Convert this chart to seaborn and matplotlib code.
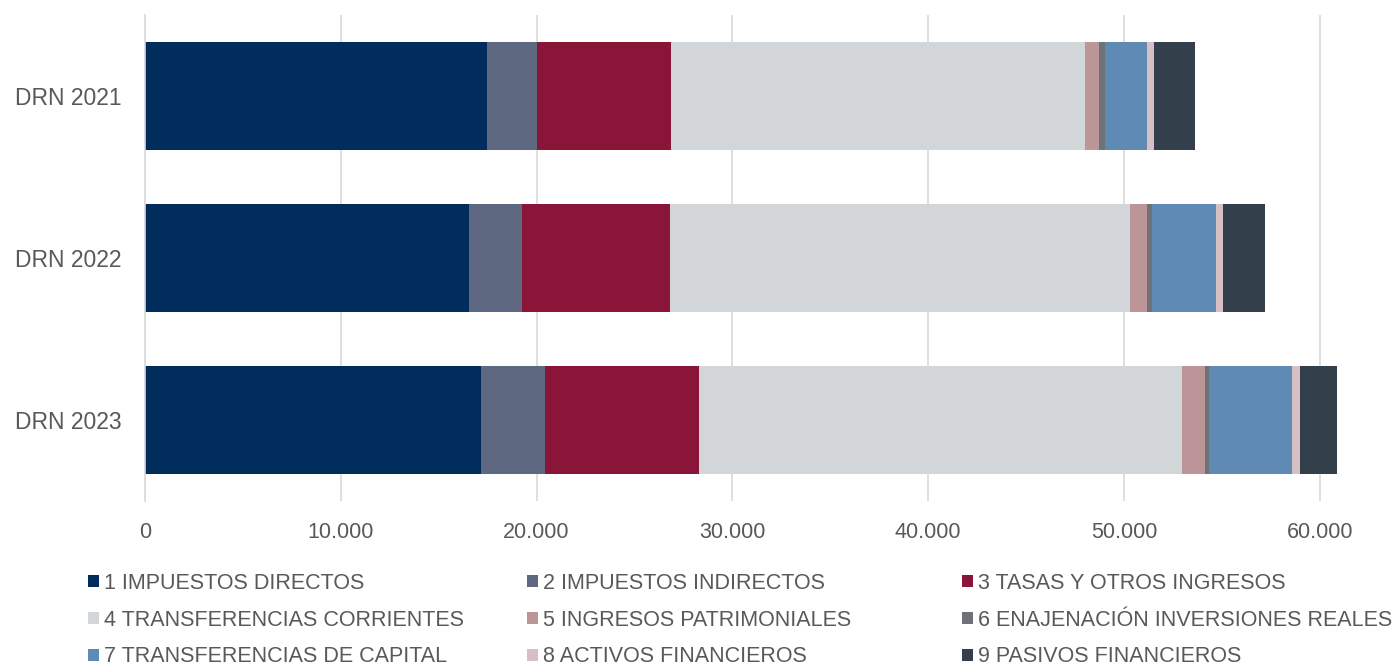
import pandas as pd
import matplotlib
matplotlib.use("Agg")
import matplotlib.pyplot as plt
from matplotlib.patches import Patch
from matplotlib.ticker import FuncFormatter, FixedLocator
import seaborn as sns

# Years (categories on y axis)
years = ["DRN 2021", "DRN 2022", "DRN 2023"]

# Chapter names, in stacking order
chapters = [
    "1 IMPUESTOS DIRECTOS",
    "2 IMPUESTOS INDIRECTOS",
    "3 TASAS Y OTROS INGRESOS",
    "4 TRANSFERENCIAS CORRIENTES",
    "5 INGRESOS PATRIMONIALES",
    "6 ENAJENACIÓN INVERSIONES REALES",
    "7 TRANSFERENCIAS DE CAPITAL",
    "8 ACTIVOS FINANCIEROS",
    "9 PASIVOS FINANCIEROS",
]

# Values per chapter (2021, 2022, 2023)
impuestos_directos = [17480, 16550, 17160]
impuestos_indirectos = [2540, 2705, 3255]
tasas_otros = [6860, 7560, 7880]
transf_corrientes = [21145, 23490, 24670]
ingresos_patrimoniales = [700, 855, 1175]
enajenacion = [290, 285, 220]
transf_capital = [2145, 3255, 4225]
activos_fin = [360, 370, 425]
pasivos_fin = [2125, 2115, 1890]

colors = ["#002D5C", "#5E6880", "#8A1538", "#D3D6D9", "#BC9599",
          "#6D7278", "#5E8AB4", "#D6C0C4", "#333F4A"]

series = [impuestos_directos, impuestos_indirectos, tasas_otros, transf_corrientes,
          ingresos_patrimoniales, enajenacion, transf_capital, activos_fin, pasivos_fin]

rows = []
for name, vals in zip(chapters, series):
    for y, v in zip(years, vals):
        rows.append({"year": y, "chapter": name, "value": v})
df = pd.DataFrame(rows)
df["chapter"] = pd.Categorical(df["chapter"], categories=chapters, ordered=True)
df = df.sort_values(["year", "chapter"])
df["cum"] = df.groupby("year")["value"].cumsum()

sns.set_style("white")
plt.rcParams["font.family"] = ["Liberation Sans", "DejaVu Sans"]

text_col = "#595959"
grid_col = "#D9D9D9"

fig = plt.figure(figsize=(13.93, 6.70), dpi=100)
ax = fig.add_axes([0.1041, 0.2522, 0.8855, 0.7254])

# stacked bars: draw cumulative totals from last chapter to first
for name, col in reversed(list(zip(chapters, colors))):
    sub = df[df["chapter"] == name]
    sns.barplot(data=sub, x="cum", y="year", order=years, orient="h",
                color=col, saturation=1, width=0.667, errorbar=None,
                linewidth=0, ax=ax, zorder=3)

ax.set_xlim(0, 63000)
ax.set_xticks(range(0, 60001, 10000))
ax.xaxis.set_major_formatter(FuncFormatter(lambda v, p: f"{int(v):,}".replace(",", ".")))
ax.set_xlabel("")
ax.set_ylabel("")

ax.grid(axis="x", color=grid_col, linewidth=1.2, zorder=0)
ax.grid(axis="y", visible=False)
ax.set_axisbelow(True)
for s in ["top", "right", "bottom"]:
    ax.spines[s].set_visible(False)
ax.spines["left"].set_color(grid_col)
ax.spines["left"].set_linewidth(1.2)
ax.spines["left"].set_zorder(4)

ax.tick_params(axis="x", length=0, pad=15, labelsize=15.5, labelcolor=text_col)
ax.tick_params(axis="y", which="major", length=0, pad=17, labelsize=16.5, labelcolor=text_col)
ax.yaxis.set_minor_locator(FixedLocator([-0.5, 0.5, 1.5, 2.5]))
ax.tick_params(axis="y", which="minor", length=5, width=1.2, color=grid_col)

# legend: three columns laid out row by row
handles = [Patch(facecolor=c, edgecolor="none") for c in colors]
col_x = [88 / 1393, 527 / 1393, 962 / 1393]
for j, x0 in enumerate(col_x):
    idx = [j, j + 3, j + 6]
    fig.legend([handles[i] for i in idx], [chapters[i] for i in idx],
               loc="center left", bbox_to_anchor=(x0, 1 - 620 / 670),
               frameon=False, borderpad=0, borderaxespad=0,
               handlelength=0.5, handleheight=0.5, handletextpad=0.25,
               labelspacing=0.74, fontsize=15.5, labelcolor=text_col)

fig.savefig("out.png", dpi=100)
